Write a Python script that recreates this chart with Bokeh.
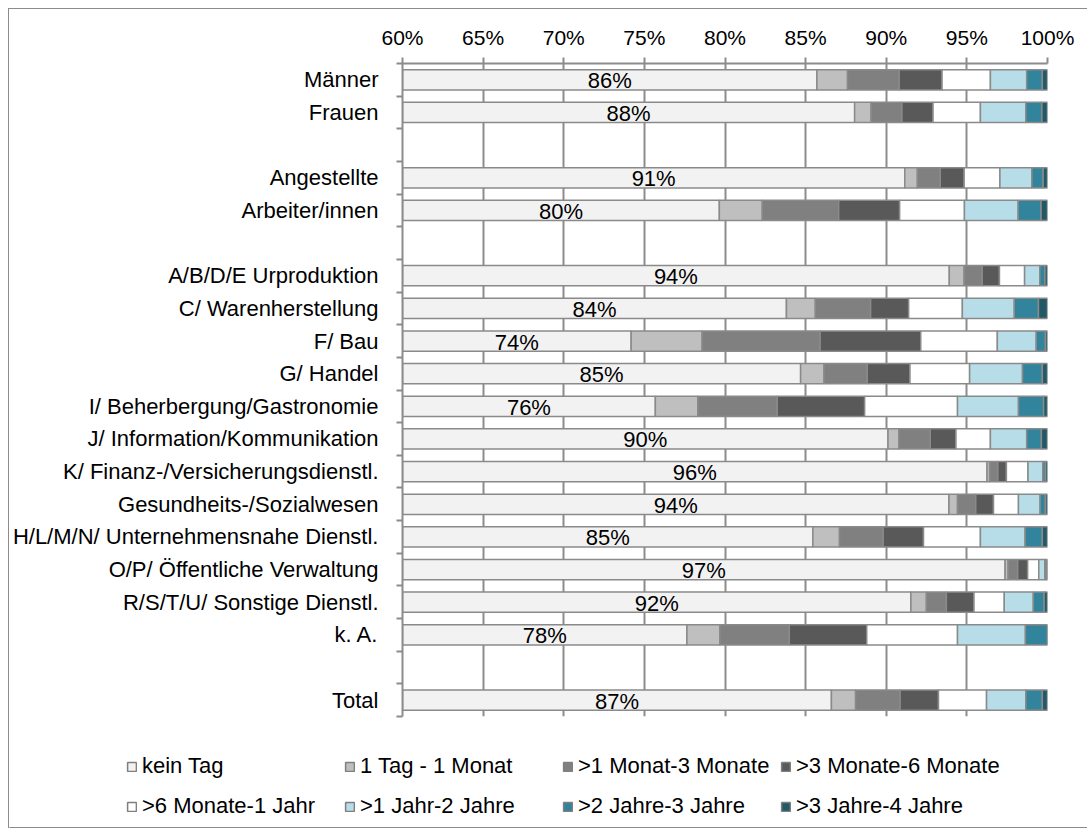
from bokeh.plotting import figure
from bokeh.models import Range1d, FixedTicker, ColumnDataSource, Legend
from bokeh.core.properties import value
from bokeh.embed import file_html
from bokeh.resources import INLINE

# rows from top to bottom; "" marks an empty spacer row
rows = ["Männer", "Frauen", "", "Angestellte", "Arbeiter/innen", "",
        "A/B/D/E Urproduktion", "C/ Warenherstellung", "F/ Bau", "G/ Handel",
        "I/ Beherbergung/Gastronomie", "J/ Information/Kommunikation",
        "K/ Finanz-/Versicherungsdienstl.", "Gesundheits-/Sozialwesen",
        "H/L/M/N/ Unternehmensnahe Dienstl.", "O/P/ Öffentliche Verwaltung",
        "R/S/T/U/ Sonstige Dienstl.", "k. A.", "", "Total"]

categories = [r for r in rows if r]

series_names = ["kein Tag", "1 Tag - 1 Monat", ">1 Monat-3 Monate", ">3 Monate-6 Monate",
                ">6 Monate-1 Jahr", ">1 Jahr-2 Jahre", ">2 Jahre-3 Jahre", ">3 Jahre-4 Jahre"]

kein_tag     = [85.70, 88.04, 91.15, 79.65, 93.91, 83.81, 74.18, 84.69, 75.68, 90.11, 96.25, 93.89, 85.45, 97.37, 91.53, 77.64, 86.60]
tag_monat    = [1.90, 1.02, 0.78, 2.66, 0.92, 1.79, 4.40, 1.45, 2.63, 0.67, 0.16, 0.53, 1.65, 0.19, 0.96, 2.04, 1.50]
monat_1_3    = [3.20, 1.91, 1.42, 4.74, 1.12, 3.43, 7.32, 2.68, 4.93, 1.95, 0.51, 1.13, 2.71, 0.59, 1.24, 4.31, 2.76]
monat_3_6    = [2.66, 1.93, 1.48, 3.78, 1.07, 2.36, 6.24, 2.65, 5.42, 1.59, 0.53, 1.10, 2.50, 0.62, 1.71, 4.80, 2.38]
monat_6_jahr = [3.00, 2.94, 2.22, 4.02, 1.56, 3.33, 4.75, 3.70, 5.76, 2.14, 1.34, 1.55, 3.53, 0.69, 1.88, 5.63, 2.98]
jahr_1_2     = [2.25, 2.82, 1.98, 3.33, 0.94, 3.22, 2.41, 3.28, 3.78, 2.25, 0.92, 1.34, 2.77, 0.38, 1.80, 4.21, 2.44]
jahr_2_3     = [0.97, 0.99, 0.70, 1.42, 0.32, 1.50, 0.57, 1.23, 1.56, 0.91, 0.16, 0.33, 1.07, 0.10, 0.67, 1.37, 1.02]
jahr_3_4     = [0.32, 0.35, 0.27, 0.40, 0.16, 0.56, 0.13, 0.32, 0.24, 0.38, 0.13, 0.13, 0.32, 0.06, 0.21, 0.00, 0.32]

x_ticks = [60, 65, 70, 75, 80, 85, 90, 95, 100]

colors = ["#F2F2F2", "#BFBFBF", "#808080", "#595959", "#FFFFFF", "#B7DEE8", "#31849B", "#215967"]
keys = ["s0", "s1", "s2", "s3", "s4", "s5", "s6", "s7"]

n = len(rows)
centers = {r: n - i - 0.5 for i, r in enumerate(rows) if r}
y = [centers[c] for c in categories]

data = dict(y=y)
for k, vals in zip(keys, [kein_tag, tag_monat, monat_1_3, monat_3_6, monat_6_jahr, jahr_1_2, jahr_2_3, jahr_3_4]):
    data[k] = vals
source = ColumnDataSource(data)

FONT = "Liberation Sans"
GRID = "#8C8C8C"
BAR_LINE = "#8A8A8A"
BORDER = "1px solid #8C8C8C"

p = figure(width=1079, height=716, x_range=Range1d(60, 100), y_range=Range1d(0, n),
           x_axis_location="above", output_backend="svg", toolbar_location=None,
           min_border_left=393, min_border_top=54, min_border_right=41, min_border_bottom=9)
p.styles = {"border-top": BORDER, "border-left": BORDER}
p.margin = (8, 0, 0, 8)
p.outline_line_color = None

p.hbar_stack(keys, y="y", height=0.62, color=colors, source=source,
             line_color=BAR_LINE, line_width=1.5)

# data labels centred in the visible part of the first segment
lab_src = ColumnDataSource(dict(
    x=[(x_ticks[0] + v) / 2 for v in kein_tag], y=y,
    t=[f"{round(v)}%" for v in kein_tag]))
p.text(x="x", y="y", text="t", source=lab_src, text_align="center", text_baseline="middle",
       text_font=value(FONT), text_font_size="22px", text_color="#000000", y_offset=1)

# x axis on top
xa = p.xaxis[0]
xa.ticker = FixedTicker(ticks=x_ticks, minor_ticks=[])
xa.major_label_overrides = {t: f"{t}%" for t in x_ticks}
xa.major_label_text_font = FONT
xa.major_label_text_font_size = "21px"
xa.major_label_text_color = "#000000"
xa.major_label_standoff = 9
xa.axis_line_color = GRID
xa.axis_line_width = 2
xa.major_tick_line_color = GRID
xa.major_tick_line_width = 2
xa.major_tick_out = 6
xa.major_tick_in = 0

# y axis with labels at row centres and tick marks between rows
ya = p.yaxis[0]
ya.ticker = FixedTicker(ticks=[n - i - 0.5 for i in range(n)], minor_ticks=list(range(n + 1)))
ya.major_label_overrides = {n - i - 0.5: r for i, r in enumerate(rows)}
ya.major_label_text_font = FONT
ya.major_label_text_font_size = "22px"
ya.major_label_text_color = "#000000"
ya.major_label_standoff = 18
ya.axis_line_color = GRID
ya.axis_line_width = 2
ya.major_tick_line_color = None
ya.major_tick_out = 6
ya.major_tick_in = 0
ya.minor_tick_line_color = GRID
ya.minor_tick_line_width = 2
ya.minor_tick_out = 6
ya.minor_tick_in = 0

p.xgrid.ticker = FixedTicker(ticks=x_ticks)
p.xgrid.grid_line_color = GRID
p.xgrid.grid_line_width = 2
p.ygrid.visible = False

# legend panel below the chart (separate root, so its frame is not aligned to the chart)
pl = figure(width=1079, height=104, x_range=Range1d(0, 1), y_range=Range1d(0, 1),
            x_axis_location=None, y_axis_location=None, output_backend="svg",
            toolbar_location=None, min_border=0)
pl.styles = {"border-left": BORDER}
pl.margin = (0, 0, 0, 8)
pl.outline_line_color = None
pl.xgrid.visible = False
pl.ygrid.visible = False
dummies = []
for name, c in zip(series_names, colors):
    dummies.append(pl.hbar(y=[-10], left=[0], right=[1], height=0.5, fill_color=c,
                           line_color="#7F7F7F", line_width=1.5))

legend = Legend(items=[(name, [r]) for name, r in zip(series_names, dummies)],
                location=(117, 7), orientation="horizontal", ncols=4)
legend.label_text_font = FONT
legend.label_text_font_size = "22px"
legend.label_text_color = "#000000"
legend.glyph_width = 11
legend.glyph_height = 11
legend.label_standoff = 5
legend.label_width = 192
legend.label_height = 30
legend.spacing = 10
legend.padding = 0
legend.margin = 0
legend.border_line_color = None
legend.background_fill_alpha = 0
pl.add_layout(legend, "center")

open("out.html", "w").write(file_html([p, pl], INLINE))
